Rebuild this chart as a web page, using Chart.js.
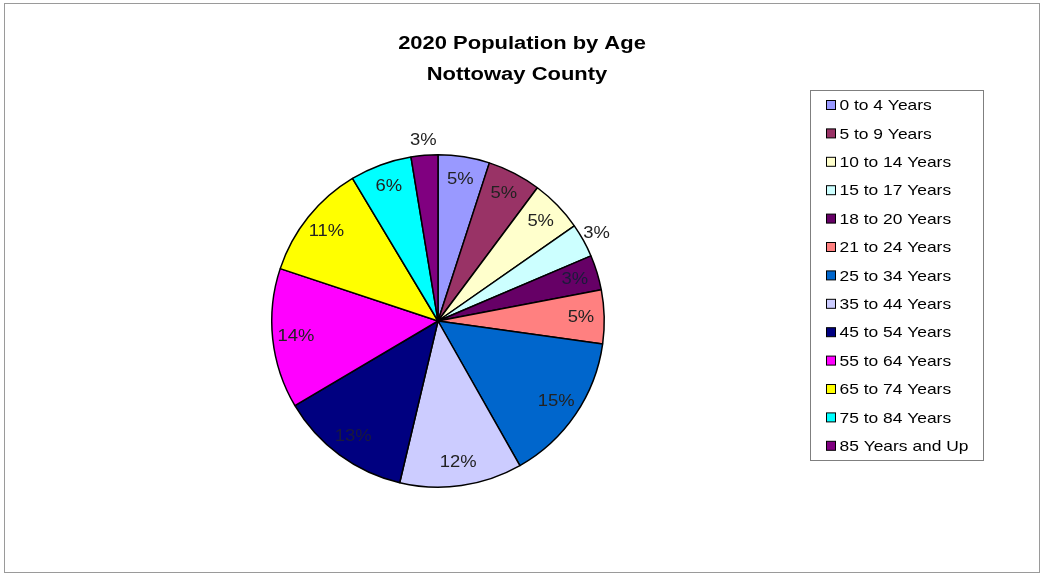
<!DOCTYPE html>
<html>
<head>
<meta charset="utf-8">
<script src="https://cdn.jsdelivr.net/npm/chart.js@4/dist/chart.umd.min.js"></script>
<style>
html,body{margin:0;padding:0;background:#fff;}
#wrap{position:relative;width:1044px;height:576px;}
</style>
</head>
<body>
<div id="wrap"><canvas id="c" width="1044" height="576"></canvas></div>
<script>
const categories = ["0 to 4 Years","5 to 9 Years","10 to 14 Years","15 to 17 Years","18 to 20 Years","21 to 24 Years","25 to 34 Years","35 to 44 Years","45 to 54 Years","55 to 64 Years","65 to 74 Years","75 to 84 Years","85 Years and Up"];
const shares = [5.0, 5.2, 5.1, 3.3, 3.4, 5.2, 14.6, 11.9, 12.8, 13.6, 11.3, 6.0, 2.6];
const colors = ["#9999FF","#993366","#FFFFCC","#CCFFFF","#660066","#FF8080","#0066CC","#CCCCFF","#000080","#FF00FF","#FFFF00","#00FFFF","#800080"];
const outsideLabel = [false,false,false,true,false,false,false,false,false,false,false,false,true];
const titleLines = ["2020 Population by Age","Nottoway County"];

function stretchText(ctx, text, x, y, sx, align){
  ctx.save();
  ctx.translate(x, y);
  ctx.scale(sx, 1);
  ctx.textAlign = align;
  ctx.fillText(text, 0, 0);
  ctx.restore();
}

const decor = {
  id:'decor',
  beforeDraw(chart){
    const ctx = chart.ctx;
    ctx.save();
    ctx.fillStyle='#fff';
    ctx.fillRect(0,0,chart.width,chart.height);
    ctx.strokeStyle='#9a9a9a';
    ctx.lineWidth=1;
    ctx.strokeRect(4.5,3.5,1035,569);
    ctx.restore();
  },
  afterDraw(chart){
    const ctx = chart.ctx;
    ctx.save();
    ctx.fillStyle='#000';
    ctx.font='bold 18px "Liberation Sans", Arial, sans-serif';
    ctx.textBaseline='middle';
    stretchText(ctx, titleLines[0], 522, 44, 1.22, 'center');
    stretchText(ctx, titleLines[1], 517, 75, 1.22, 'center');
    const meta = chart.getDatasetMeta(0);
    const total = shares.reduce((a,b)=>a+b,0);
    ctx.font='16px "Liberation Sans", Arial, sans-serif';
    meta.data.forEach((arc,i)=>{
      const p = arc.getProps(['x','y','startAngle','endAngle','outerRadius'],true);
      const mid=(p.startAngle+p.endAngle)/2;
      const r = p.outerRadius*(outsideLabel[i]?1.09:0.86);
      const x=p.x+Math.cos(mid)*r, y=p.y+Math.sin(mid)*r;
      ctx.fillStyle = (i===8||i===4)?'#1a1a3a':'#222';
      stretchText(ctx, Math.round(shares[i]/total*100)+'%', x, y, 1.15, 'center');
    });
    const lx=810, ly=90, lw=173, lh=370;
    ctx.fillStyle='#fff';
    ctx.fillRect(lx,ly,lw,lh);
    ctx.strokeStyle='#7f7f7f';
    ctx.lineWidth=1;
    ctx.strokeRect(lx+0.5,ly+0.5,lw,lh);
    ctx.font='15px "Liberation Sans", Arial, sans-serif';
    categories.forEach((c,i)=>{
      const y = 105 + i*28.4;
      ctx.fillStyle=colors[i];
      ctx.fillRect(826.5, y-4.5, 9, 9);
      ctx.strokeStyle='#000';
      ctx.strokeRect(826.5, y-4.5, 9, 9);
      ctx.fillStyle='#000';
      stretchText(ctx, c, 839.5, y+1, 1.16, 'left');
    });
    ctx.restore();
  }
};

new Chart(document.getElementById('c'), {
  type:'pie',
  data:{ labels:categories, datasets:[{ data:shares, backgroundColor:colors, borderColor:'#000', borderWidth:1.5 }]},
  options:{
    responsive:false, animation:false,
    layout:{ padding:{ left:271, right:439, top:154, bottom:88 } },
    plugins:{ legend:{display:false}, title:{display:false}, tooltip:{enabled:false} }
  },
  plugins:[decor]
});
</script>
</body>
</html>
